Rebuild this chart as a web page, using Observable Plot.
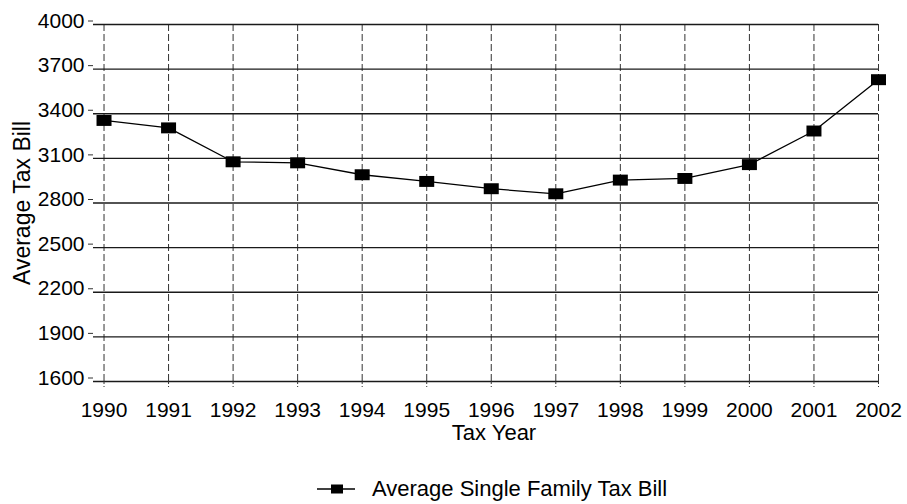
<!DOCTYPE html>
<html>
<head>
<meta charset="utf-8">
<script src="https://cdn.jsdelivr.net/npm/d3@7"></script>
<script src="https://cdn.jsdelivr.net/npm/@observablehq/plot@0.6"></script>
<style>
  html, body { margin: 0; padding: 0; background: #fff; }
  body { width: 907px; height: 504px; overflow: hidden; font-family: "Liberation Sans", Arial, sans-serif; }
  #legend { height: 49px; box-sizing: border-box; padding-top: 19px; padding-left: 317px; font-size: 22px; line-height: 26px; color: #000; display: flex; align-items: center; white-space: nowrap; }
  #legend svg { display: block; margin-right: 17px; }
</style>
</head>
<body>
<div id="chart"></div>
<div id="legend"></div>
<script>
const years = [1990, 1991, 1992, 1993, 1994, 1995, 1996, 1997, 1998, 1999, 2000, 2001, 2002];
const taxBill = [3355, 3305, 3077, 3070, 2990, 2945, 2896, 2862, 2954, 2965, 3058, 3284, 3629];
const yTicks = [1600, 1900, 2200, 2500, 2800, 3100, 3400, 3700, 4000];
const seriesName = "Average Single Family Tax Bill";
const xTitle = "Tax Year";
const yTitle = "Average Tax Bill";

const data = years.map((year, i) => ({year, value: taxBill[i]}));

const rectSymbol = {
  draw(context, size) {
    const r = Math.sqrt(size / Math.PI);
    const h = r * 0.73;
    context.rect(-r, -h, 2 * r, 2 * h);
  }
};

const fontFamily = '"Liberation Sans", Arial, sans-serif';

const chart = Plot.plot({
  width: 907,
  height: 455,
  marginLeft: 93,
  marginRight: 29,
  marginTop: 24,
  marginBottom: 74,
  style: {fontFamily, fontSize: "21px", color: "#000", background: "#fff", overflow: "visible"},
  x: {domain: [1989.837, 2002], ticks: years, tickFormat: "d", label: null},
  y: {domain: [1600, 4000], ticks: yTicks, tickFormat: "d", label: null},
  marks: [
    Plot.ruleX(years, {x: d => d, y1: 1600, y2: 4000, stroke: "#333", strokeWidth: 1, strokeDasharray: "7,3"}),
    Plot.ruleY(yTicks, {y: d => d, stroke: "#1a1a1a", strokeWidth: 1.4}),
    Plot.axisY({ticks: yTicks, tickFormat: "d", tickSize: 5, tickPadding: 4, fontSize: 21, dy: -3.5, label: null, stroke: "#333"}),
    Plot.axisX({ticks: years, tickFormat: "d", tickSize: 6, tickPadding: 15, fontSize: 21, label: null, stroke: "#333", strokeDasharray: "3,2"}),
    Plot.text([xTitle], {text: d => d, frameAnchor: "bottom", lineAnchor: "middle", textAnchor: "middle", dy: 51, dx: 8, fontSize: 22, fill: "#000"}),
    Plot.text([yTitle], {text: d => d, frameAnchor: "left", lineAnchor: "middle", textAnchor: "middle", rotate: -90, dx: -70.5, dy: 0, fontSize: 23, fill: "#000"}),
    Plot.line(data, {x: "year", y: "value", stroke: "#000", strokeWidth: 1.3}),
    Plot.dot(data, {x: "year", y: "value", symbol: rectSymbol, r: 7.5, fill: "#000", stroke: "none"})
  ]
});
document.getElementById("chart").appendChild(chart);

// Legend (HTML below the plot)
const legend = d3.select("#legend");
const lsvg = legend.append("svg").attr("width", 38).attr("height", 14);
lsvg.append("line").attr("x1", 0).attr("x2", 38).attr("y1", 7).attr("y2", 7).attr("stroke", "#000").attr("stroke-width", 1.4);
lsvg.append("rect").attr("x", 14).attr("y", 2.5).attr("width", 12).attr("height", 9).attr("fill", "#000");
legend.append("span").text(seriesName);
</script>
</body>
</html>
